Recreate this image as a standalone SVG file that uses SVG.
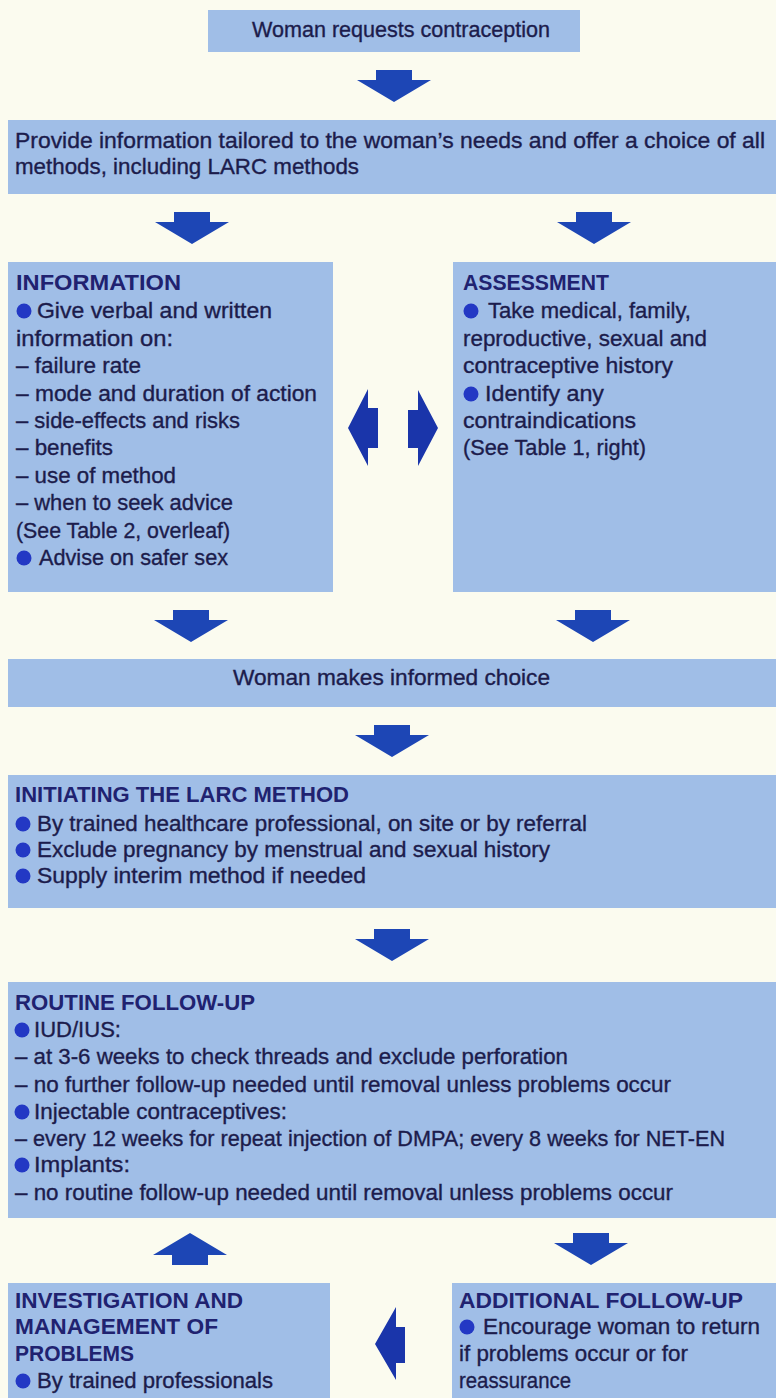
<svg xmlns="http://www.w3.org/2000/svg" xmlns:xlink="http://www.w3.org/1999/xlink" width="776" height="1398" viewBox="0 0 776 1398">
<style>
.bg{fill:#fbfbef}
.box{fill:#a0bee7}
.t{font-family:"Liberation Sans",Arial,sans-serif;font-size:22px;fill:#1c1c4c;stroke:#1c1c4c;stroke-width:0.35px}
.h{font-family:"Liberation Sans",Arial,sans-serif;font-size:22px;font-weight:bold;fill:#202270}
.b{fill:#2338c4}
.arr{fill:#1d46b5}
.arr2{fill:#1a35aa}
</style>
<defs>
<path id="down" d="M-18,0 H18 V10 H37 L0,32 L-37,10 H-18 Z"/>
</defs>
<rect class="bg" x="0" y="0" width="776" height="1398"/>

<g id="connectors">
<use href="#down" class="arr" x="394" y="70"/>
<use href="#down" class="arr" x="192" y="212"/>
<use href="#down" class="arr" x="594" y="212"/>
<path class="arr2" d="M348,428 L368,389 V408 H378 V448 H368 V466 Z"/>
<path class="arr2" d="M438,428 L418,390 V410 H408 V448 H418 V466 Z"/>
<use href="#down" class="arr" x="191" y="610"/>
<use href="#down" class="arr" x="593" y="610"/>
<use href="#down" class="arr" x="392" y="725"/>
<use href="#down" class="arr" x="392" y="929"/>
<use href="#down" class="arr" transform="translate(190,1265) rotate(180)"/>
<use href="#down" class="arr" x="591" y="1233"/>
<path class="arr2" d="M375,1344 L396,1307 V1327 H405 V1363 H396 V1380 Z"/>
</g>

<g id="n-request">
<rect class="box" x="208" y="10" width="372" height="42"/>
<text class="t" x="252" y="37" textLength="298" lengthAdjust="spacingAndGlyphs">Woman requests contraception</text>
</g>

<g id="n-provide">
<rect class="box" x="8" y="120" width="768" height="74"/>
<text class="t" x="15" y="148" textLength="750" lengthAdjust="spacingAndGlyphs">Provide information tailored to the woman’s needs and offer a choice of all</text>
<text class="t" x="15" y="174" textLength="344" lengthAdjust="spacingAndGlyphs">methods, including LARC methods</text>
</g>

<g id="n-information">
<rect class="box" x="8" y="262" width="325" height="330"/>
<text class="h" x="16" y="290" textLength="165" lengthAdjust="spacingAndGlyphs">INFORMATION</text>
<circle class="b" cx="24" cy="311" r="7.5"/>
<text class="t" x="37" y="318" textLength="235" lengthAdjust="spacingAndGlyphs">Give verbal and written</text>
<text class="t" x="16" y="346" textLength="157" lengthAdjust="spacingAndGlyphs">information on:</text>
<text class="t" x="16" y="373" textLength="125" lengthAdjust="spacingAndGlyphs">– failure rate</text>
<text class="t" x="16" y="401" textLength="301" lengthAdjust="spacingAndGlyphs">– mode and duration of action</text>
<text class="t" x="16" y="428" textLength="224" lengthAdjust="spacingAndGlyphs">– side-effects and risks</text>
<text class="t" x="16" y="455" textLength="97" lengthAdjust="spacingAndGlyphs">– benefits</text>
<text class="t" x="16" y="483" textLength="160" lengthAdjust="spacingAndGlyphs">– use of method</text>
<text class="t" x="16" y="510" textLength="217" lengthAdjust="spacingAndGlyphs">– when to seek advice</text>
<text class="t" x="16" y="538" textLength="214" lengthAdjust="spacingAndGlyphs">(See Table 2, overleaf)</text>
<circle class="b" cx="24" cy="558" r="7.5"/>
<text class="t" x="39" y="565" textLength="189" lengthAdjust="spacingAndGlyphs">Advise on safer sex</text>
</g>

<g id="n-assessment">
<rect class="box" x="453" y="262" width="323" height="330"/>
<text class="h" x="463" y="290" textLength="146" lengthAdjust="spacingAndGlyphs">ASSESSMENT</text>
<circle class="b" cx="471" cy="311" r="7.5"/>
<text class="t" x="488" y="318" textLength="203" lengthAdjust="spacingAndGlyphs">Take medical, family,</text>
<text class="t" x="463" y="346" textLength="244" lengthAdjust="spacingAndGlyphs">reproductive, sexual and</text>
<text class="t" x="463" y="373" textLength="210" lengthAdjust="spacingAndGlyphs">contraceptive history</text>
<circle class="b" cx="471" cy="394" r="7.5"/>
<text class="t" x="485" y="401" textLength="119" lengthAdjust="spacingAndGlyphs">Identify any</text>
<text class="t" x="463" y="428" textLength="173" lengthAdjust="spacingAndGlyphs">contraindications</text>
<text class="t" x="463" y="455" textLength="183" lengthAdjust="spacingAndGlyphs">(See Table 1, right)</text>
</g>

<g id="n-choice">
<rect class="box" x="8" y="659" width="768" height="48"/>
<text class="t" x="233" y="685" textLength="317" lengthAdjust="spacingAndGlyphs">Woman makes informed choice</text>
</g>

<g id="n-initiating">
<rect class="box" x="8" y="775" width="768" height="133"/>
<text class="h" x="15" y="802" textLength="334" lengthAdjust="spacingAndGlyphs">INITIATING THE LARC METHOD</text>
<circle class="b" cx="23" cy="824" r="7.5"/>
<text class="t" x="37" y="831" textLength="550" lengthAdjust="spacingAndGlyphs">By trained healthcare professional, on site or by referral</text>
<circle class="b" cx="23" cy="850" r="7.5"/>
<text class="t" x="37" y="857" textLength="513" lengthAdjust="spacingAndGlyphs">Exclude pregnancy by menstrual and sexual history</text>
<circle class="b" cx="23" cy="876" r="7.5"/>
<text class="t" x="37" y="883" textLength="329" lengthAdjust="spacingAndGlyphs">Supply interim method if needed</text>
</g>

<g id="n-routine">
<rect class="box" x="8" y="982" width="768" height="236"/>
<text class="h" x="15" y="1010" textLength="240" lengthAdjust="spacingAndGlyphs">ROUTINE FOLLOW-UP</text>
<circle class="b" cx="22" cy="1030" r="7.5"/>
<text class="t" x="34" y="1037" textLength="87" lengthAdjust="spacingAndGlyphs">IUD/IUS:</text>
<text class="t" x="15" y="1064" textLength="553" lengthAdjust="spacingAndGlyphs">– at 3-6 weeks to check threads and exclude perforation</text>
<text class="t" x="15" y="1092" textLength="656" lengthAdjust="spacingAndGlyphs">– no further follow-up needed until removal unless problems occur</text>
<circle class="b" cx="22" cy="1112" r="7.5"/>
<text class="t" x="34" y="1119" textLength="253" lengthAdjust="spacingAndGlyphs">Injectable contraceptives:</text>
<text class="t" x="15" y="1146" textLength="710" lengthAdjust="spacingAndGlyphs">– every 12 weeks for repeat injection of DMPA; every 8 weeks for NET-EN</text>
<circle class="b" cx="22" cy="1165" r="7.5"/>
<text class="t" x="34" y="1172" textLength="96" lengthAdjust="spacingAndGlyphs">Implants:</text>
<text class="t" x="15" y="1200" textLength="658" lengthAdjust="spacingAndGlyphs">– no routine follow-up needed until removal unless problems occur</text>
</g>

<g id="n-investigation">
<rect class="box" x="8" y="1283" width="322" height="115"/>
<text class="h" x="15" y="1308" textLength="228" lengthAdjust="spacingAndGlyphs">INVESTIGATION AND</text>
<text class="h" x="15" y="1334" textLength="203" lengthAdjust="spacingAndGlyphs">MANAGEMENT OF</text>
<text class="h" x="15" y="1361" textLength="119" lengthAdjust="spacingAndGlyphs">PROBLEMS</text>
<circle class="b" cx="23" cy="1381" r="7.5"/>
<text class="t" x="37" y="1388" textLength="236" lengthAdjust="spacingAndGlyphs">By trained professionals</text>
</g>

<g id="n-additional">
<rect class="box" x="452" y="1283" width="324" height="115"/>
<text class="h" x="459" y="1308" textLength="284" lengthAdjust="spacingAndGlyphs">ADDITIONAL FOLLOW-UP</text>
<circle class="b" cx="467" cy="1327" r="7.5"/>
<text class="t" x="483" y="1334" textLength="277" lengthAdjust="spacingAndGlyphs">Encourage woman to return</text>
<text class="t" x="459" y="1361" textLength="229" lengthAdjust="spacingAndGlyphs">if problems occur or for</text>
<text class="t" x="459" y="1388" textLength="112" lengthAdjust="spacingAndGlyphs">reassurance</text>
</g>
</svg>
